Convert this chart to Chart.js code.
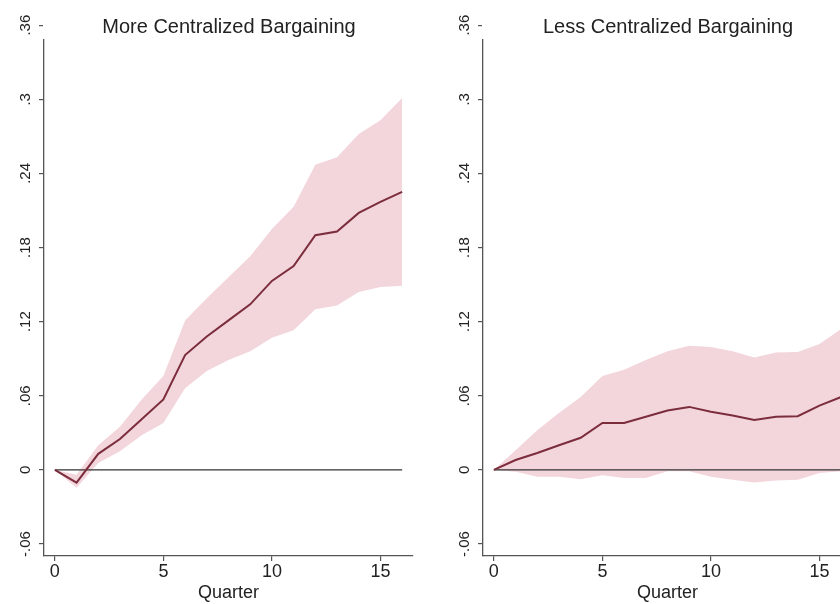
<!DOCTYPE html>
<html>
<head>
<meta charset="utf-8">
<script src="https://cdn.jsdelivr.net/npm/chart.js@4/dist/chart.umd.min.js"></script>
<style>
  html, body { margin: 0; padding: 0; background: #fff; overflow: hidden; }
  .panel { position: absolute; top: 0; height: 604px; overflow: hidden; }
  .panel canvas { position: absolute; top: 0; left: 0; }
  .titulo {
    position: absolute; top: 15px; width: 380px; text-align: center;
    font-family: "Liberation Sans", Arial, sans-serif; font-size: 20px; color: #222;
  }
</style>
</head>
<body>
<div class="panel" style="left:0; width:420px;"><canvas id="graficoMas" width="420" height="604"></canvas></div>
<div class="panel" style="left:439px; width:401px;"><canvas id="graficoMenos" width="420" height="604"></canvas></div>
<div class="titulo" style="left:39px;">More Centralized Bargaining</div>
<div class="titulo" style="left:478px;">Less Centralized Bargaining</div>

<script>
// Trimestres despues del shock
const trimestres = [0, 1, 2, 3, 4, 5, 6, 7, 8, 9, 10, 11, 12, 13, 14, 15, 16];

// Negociacion mas centralizada: respuesta e intervalo
const masEstimado = [0, -0.0103, 0.013, 0.025, 0.041, 0.057, 0.093, 0.108, 0.121, 0.134, 0.153, 0.165, 0.19, 0.193, 0.208, 0.217, 0.225];
const masSuperior = [0, -0.004, 0.02, 0.035, 0.057, 0.076, 0.121, 0.139, 0.156, 0.173, 0.195, 0.213, 0.247, 0.253, 0.272, 0.283, 0.301];
const masInferior = [0, -0.0145, 0.0055, 0.015, 0.028, 0.038, 0.066, 0.08, 0.089, 0.096, 0.107, 0.113, 0.13, 0.133, 0.144, 0.148, 0.149];

// Negociacion menos centralizada: respuesta e intervalo
const menosEstimado = [0, 0.008, 0.0137, 0.02, 0.026, 0.038, 0.038, 0.043, 0.048, 0.051, 0.047, 0.044, 0.0405, 0.043, 0.0435, 0.052, 0.059];
const menosSuperior = [0, 0.016, 0.032, 0.046, 0.059, 0.076, 0.081, 0.089, 0.096, 0.1005, 0.0995, 0.096, 0.091, 0.095, 0.0955, 0.102, 0.114];
const menosInferior = [0, -0.0015, -0.0055, -0.0055, -0.0076, -0.0043, -0.0065, -0.0065, -0.001, -0.001, -0.0055, -0.008, -0.0103, -0.0085, -0.008, -0.0025, -0.001];

// Marcas de los ejes
const ticksX = [0, 5, 10, 15];
const ticksY = [-0.06, 0, 0.06, 0.12, 0.18, 0.24, 0.3, 0.36];

const colorLinea = "#7b2d3c";
const colorBanda = "#f3d5dc";
const colorEje = "#555";
const fuente = "'Liberation Sans', Arial, sans-serif";

function puntos(valores) {
    return trimestres.map((q, i) => ({ x: q, y: valores[i] }));
}

// formato tipo Stata: .36, .3, 0, -.06
function formatoY(v) {
    if (Math.abs(v) < 1e-9) return "0";
    let s = (+v.toFixed(2)).toString();
    return s.replace("0.", ".");
}

function crearGrafico(id, estimado, superior, inferior) {
    const ctx = document.getElementById(id);
    return new Chart(ctx, {
        type: "line",
        data: {
            datasets: [
                {
                    data: puntos(estimado),
                    borderColor: colorLinea,
                    borderWidth: 2,
                    pointRadius: 0,
                    fill: false,
                    order: 1
                },
                {
                    data: puntos(trimestres.map(() => 0)),
                    borderColor: "#333",
                    borderWidth: 1.4,
                    pointRadius: 0,
                    fill: false,
                    order: 2
                },
                {
                    data: puntos(superior),
                    borderWidth: 0,
                    borderColor: colorBanda,
                    backgroundColor: colorBanda,
                    pointRadius: 0,
                    fill: "+1",
                    order: 3
                },
                {
                    data: puntos(inferior),
                    borderWidth: 0,
                    borderColor: colorBanda,
                    pointRadius: 0,
                    fill: false,
                    order: 4
                }
            ]
        },
        options: {
            responsive: false,
            animation: false,
            layout: { padding: { top: 40, right: 7, left: 0, bottom: 0 } },
            plugins: {
                legend: { display: false },
                tooltip: { enabled: false }
            },
            scales: {
                x: {
                    type: "linear",
                    min: -0.5,
                    max: 16.5,
                    afterBuildTicks: scale => { scale.ticks = ticksX.map(v => ({ value: v })); },
                    afterFit: scale => { scale.height = 48; },
                    grid: { display: true, drawOnChartArea: false, drawTicks: true, tickLength: 5, color: colorEje, lineWidth: 1.2 },
                    border: { display: true, color: colorEje, width: 1.3 },
                    ticks: { color: "#222", font: { family: fuente, size: 18 }, padding: 0, maxRotation: 0 },
                    title: { display: true, text: "Quarter", color: "#222", font: { family: fuente, size: 18 }, padding: { top: 0, bottom: 0 } }
                },
                y: {
                    type: "linear",
                    min: -0.0697,
                    max: 0.348,
                    afterBuildTicks: scale => { scale.ticks = ticksY.map(v => ({ value: v })); },
                    afterFit: scale => { scale.width = 44; },
                    grid: { display: true, drawOnChartArea: false, drawTicks: true, tickLength: 5, color: colorEje, lineWidth: 1.2 },
                    border: { display: true, color: colorEje, width: 1.3 },
                    ticks: {
                        color: "#222",
                        font: { family: fuente, size: 15 },
                        padding: 0,
                        minRotation: 90,
                        maxRotation: 90,
                        crossAlign: "center",
                        callback: v => formatoY(v)
                    }
                }
            }
        }
    });
}

crearGrafico("graficoMas", masEstimado, masSuperior, masInferior);
crearGrafico("graficoMenos", menosEstimado, menosSuperior, menosInferior);
</script>
</body>
</html>
